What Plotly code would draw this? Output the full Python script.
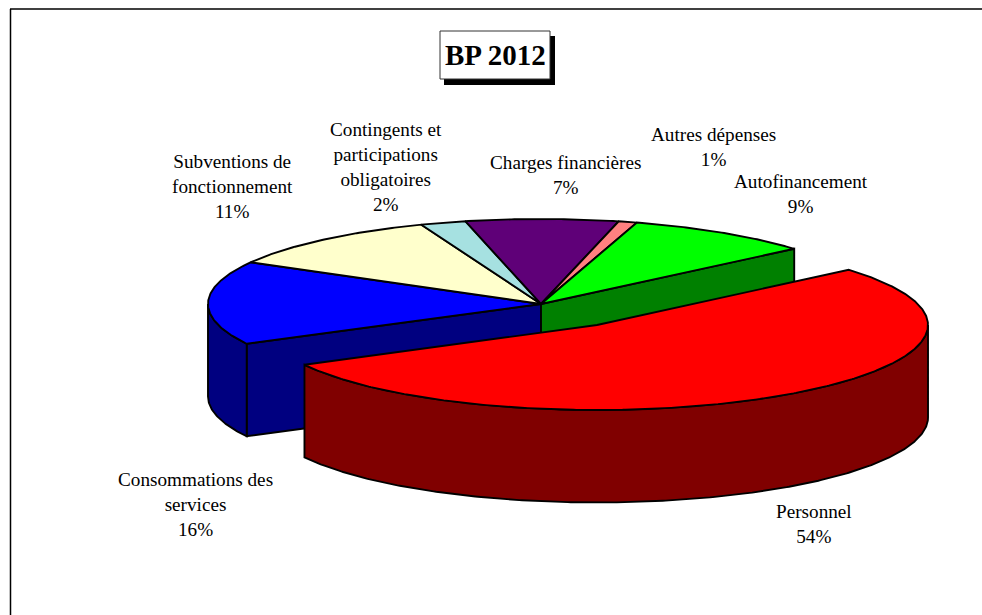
import math
import plotly.graph_objects as go

categories = ["Personnel", "Consommations des<br>services", "Subventions de<br>fonctionnement",
              "Contingents et<br>participations<br>obligatoires", "Charges financières",
              "Autres dépenses", "Autofinancement"]
values = [53.5, 15.9, 11.0, 2.2, 7.4, 0.9, 9.1]
top_colors = ["#FF0000", "#0000FF", "#FFFFCC", "#A6E1E1", "#5F0078", "#FF8080", "#00FF00"]
side_colors = ["#800000", "#000080", None, None, None, None, "#008000"]

label_x = [814, 195, 232, 386, 566, 713, 801]
label_y = [524, 504, 186, 167, 175, 147, 194]

START = 49.5
CX, CY = 541, 304
RX, RY = 333, 85
RX_FRONT = 331
DEPTH = 92.5
EXPLODE = (56, 21)
OUTLINE = dict(color="black", width=1.9)

bounds = [START]
for v in values:
    bounds.append(bounds[-1] + v * 3.6)


def rim(t, cx, cy, rx=RX):
    r = math.radians(t)
    return cx + rx * math.sin(r), cy - RY * math.cos(r)


def arc(a, b, cx, cy, rx=RX):
    n = max(2, int(abs(b - a) * 2))
    return [rim(a + (b - a) * i / n, cx, cy, rx) for i in range(n + 1)]


def poly(fig, pts, color):
    pts = list(pts) + [pts[0]]
    fig.add_trace(go.Scatter(x=[p[0] for p in pts], y=[p[1] for p in pts], mode="lines",
                             fill="toself", fillcolor=color,
                             line=dict(color=OUTLINE["color"], width=OUTLINE["width"]),
                             hoverinfo="skip", showlegend=False))


def drop(pts):
    return [(x, y + DEPTH) for x, y in reversed(pts)]


fig = go.Figure()

# walls of the main body
a, b = bounds[1], bounds[2]
edge = rim(a, CX, CY)
poly(fig, [(CX, CY), edge, (edge[0], edge[1] + DEPTH), (CX, CY + DEPTH)], side_colors[1])
outer = arc(a, 270, CX, CY)
poly(fig, outer + drop(outer), side_colors[1])

a, b = bounds[6], bounds[7]
edge = rim(b, CX, CY)
poly(fig, [(CX, CY), edge, (edge[0], edge[1] + DEPTH), (CX, CY + DEPTH)], side_colors[6])

# tops of the main body
for i in range(1, len(values)):
    poly(fig, [(CX, CY)] + arc(bounds[i], bounds[i + 1], CX, CY), top_colors[i])

# exploded slice
ex, ey = CX + EXPLODE[0], CY + EXPLODE[1]
outer = arc(90, bounds[1], ex, ey, RX_FRONT)
poly(fig, outer + drop(outer), side_colors[0])
poly(fig, [(ex, ey)] + arc(bounds[0], bounds[1], ex, ey, RX_FRONT), top_colors[0])

for name, v, x, y in zip(categories, values, label_x, label_y):
    fig.add_annotation(x=x, y=y, text=f"{name}<br>{round(v)}%", showarrow=False,
                       font=dict(family="Liberation Serif", size=19.2, color="black"),
                       align="center", xanchor="center", yanchor="middle")

fig.add_annotation(x=495, y=55, text="<b>BP 2012</b>", showarrow=False,
                   font=dict(family="Liberation Serif", size=29, color="black"),
                   xanchor="center", yanchor="middle")

fig.update_layout(
    width=982, height=615, margin=dict(l=0, r=0, t=0, b=0),
    paper_bgcolor="white", plot_bgcolor="white", showlegend=False, hovermode=False,
    xaxis=dict(range=[0, 982], visible=False, fixedrange=True),
    yaxis=dict(range=[615, 0], visible=False, fixedrange=True),
    shapes=[
        dict(type="line", x0=10.5, x1=10.5, y0=9, y1=615, line=dict(color="black", width=1.5)),
        dict(type="line", x0=10, x1=982, y0=9, y1=9, line=dict(color="black", width=1.5)),
        dict(type="rect", x0=444, x1=555, y0=36, y1=85, fillcolor="black", line=dict(width=0)),
        dict(type="rect", x0=440, x1=550, y0=31, y1=79, fillcolor="white",
             line=dict(color="#333333", width=1)),
    ],
)
fig.write_html("out.html", config={"displayModeBar": False},
               post_script="document.body.style.margin='0';document.body.style.overflow='hidden';")
